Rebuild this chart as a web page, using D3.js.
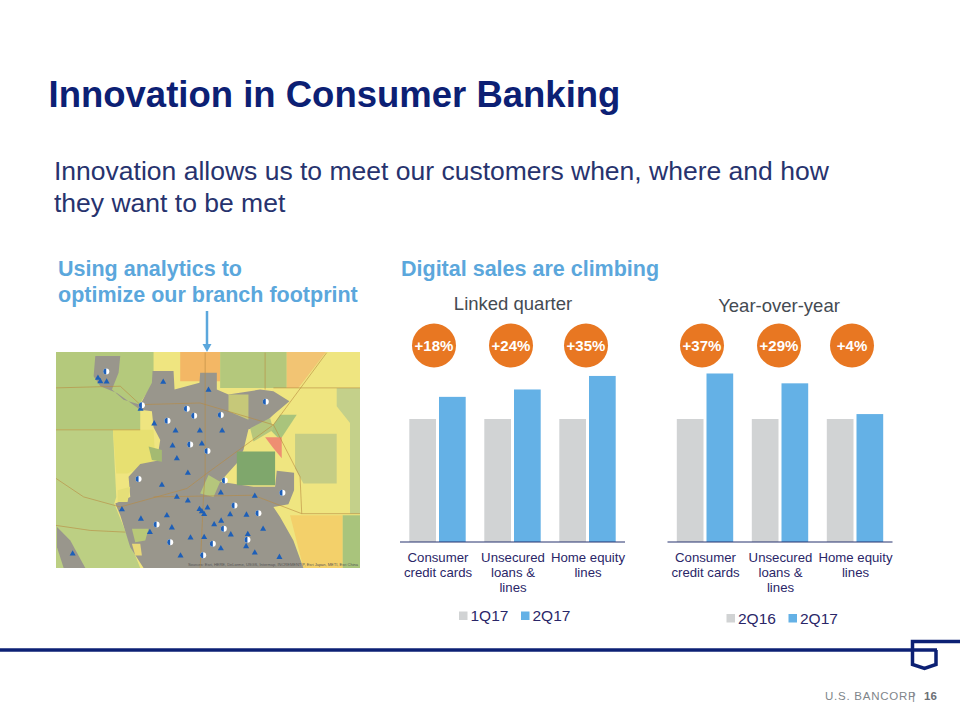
<!DOCTYPE html>
<html><head><meta charset="utf-8">
<script src="https://cdnjs.cloudflare.com/ajax/libs/d3/7.8.5/d3.min.js"></script>
<style>html,body{margin:0;background:#fff}svg{display:block}text{font-family:"Liberation Sans",Arial,sans-serif}</style>
</head><body><svg id="c" width="960" height="720"></svg>
<script>
const categories = [["Consumer","credit cards"],["Unsecured","loans &","lines"],["Home equity","lines"]];
const linkedBase = [100,100,100];
const linkedCurrent = [118,124,135];
const linkedBadges = ["+18%","+24%","+35%"];
const linkedLegend = ["1Q17","2Q17"];
const yoyBase = [100,100,100];
const yoyCurrent = [137,129,104];
const yoyBadges = ["+37%","+29%","+4%"];
const yoyLegend = ["2Q16","2Q17"];
// branch positions, in map units
const branchTriangles = [[173,114],[180,124],[199,125],[369,126],[505,150],[301,206],[342,250],[406,271],[479,271],[546,271],[397,316],[485,310],[410,354],[443,397],[365,433],[542,456],[644,466],[410,469],[443,480],[245,506],[478,505],[502,501],[485,512],[492,520],[380,524],[302,534],[570,521],[619,522],[543,540],[522,551],[395,560],[669,564],[329,574],[572,581],[623,580],[451,590],[492,589],[618,616],[542,622],[644,635],[421,644],[718,648],[97,638]];
const branchCircles = [[198,96],[305,197],[440,207],[462,228],[542,226],[677,186],[382,243],[450,314],[502,333],[295,417],[554,421],[727,458],[583,496],[655,519],[349,552],[551,565],[622,598],[390,605],[518,610],[489,644]];
const metroOutline = [[165,50],[240,50],[235,100],[215,150],[250,180],[300,195],[335,130],[337,95],[400,95],[403,150],[478,130],[480,100],[530,100],[530,150],[565,165],[660,150],[700,155],[748,185],[700,225],[660,262],[625,268],[610,330],[590,370],[540,425],[590,432],[640,440],[705,440],[710,392],[762,398],[762,450],[745,492],[700,500],[720,530],[760,600],[790,682],[310,682],[270,620],[240,525],[225,490],[270,470],[265,410],[300,372],[350,362],[360,300],[340,262],[335,215],[300,210],[230,160],[180,140],[160,110]];
const metroSouthWest = [[50,560],[90,600],[135,682],[70,682],[50,620]];
const mapZones = [
 {c:"#efe580",p:[[47,38],[960,38],[960,682],[47,682]]},
 {c:"#b4c97c",p:[[47,38],[340,38],[340,130],[300,190],[300,270],[47,270]]},
 {c:"#bccf83",p:[[47,270],[218,270],[228,470],[222,490],[300,682],[47,682]]},
 {c:"#e7e071",p:[[218,270],[340,270],[345,362],[262,400],[228,400]]},
 {c:"#f3b765",p:[[420,38],[540,38],[540,125],[420,125]]},
 {c:"#b4c87c",p:[[540,38],[740,38],[740,145],[540,145]]},
 {c:"#f2c473",p:[[740,38],[858,38],[775,145],[740,145]]},
 {c:"#c4d08a",p:[[890,145],[960,145],[960,520],[930,520],[930,250],[890,200]]},
 {c:"#c5cd84",p:[[765,282],[890,282],[890,430],[790,430],[765,385]]},
 {c:"#f3d06a",p:[[750,525],[908,525],[908,682],[790,682]]},
 {c:"#a9c47c",p:[[908,525],[960,525],[960,682],[908,682]]},
 {c:"#a9c47c",p:[[720,225],[770,225],[720,300],[690,270]]}
];
const mapOverZones = [
 {c:"#7fa76c",p:[[590,335],[705,335],[705,435],[590,435]]},
 {c:"#ee8e72",p:[[675,292],[725,292],[725,355],[700,325]]},
 {c:"#a4ba72",p:[[325,320],[365,330],[365,365],[335,360]]},
 {c:"#b5c67c",p:[[505,405],[540,425],[520,470],[480,460]]},
 {c:"#e5df78",p:[[232,450],[270,440],[262,485],[232,485]]},
 {c:"#b8c878",p:[[275,565],[325,565],[315,600],[285,605]]},
 {c:"#e8d878",p:[[275,610],[300,610],[305,645],[285,645]]},
 {c:"#c6c879",p:[[565,165],[625,165],[625,240],[565,215]]},
 {c:"#b6c67c",p:[[630,265],[690,235],[700,270],[640,305]]}
];
const mapRoads = [
 [[47,145],[240,140],[300,195],[480,190],[700,255],[780,410],[785,520],[960,520]],
 [[860,40],[700,255],[500,400],[440,445],[240,500]],
 [[495,40],[495,400],[490,470],[480,682]],
 [[47,415],[130,470],[240,500]],
 [[47,555],[150,570],[255,575]],
 [[675,40],[675,150]],
 [[47,270],[300,270]],
 [[700,145],[960,145]],
 [[340,470],[640,465],[785,520]]
];

const svg = d3.select("#c");
const navy = "#0c2074";
const labelColor = "#2a2668";
const grayBar = "#d1d3d4", blueBar = "#64b1e6";

// Header text
svg.append("text").attr("x",48.5).attr("y",107).attr("font-size",36.5).attr("font-weight","bold").attr("fill",navy).text("Innovation in Consumer Banking");
svg.append("g").selectAll("text").data(["Innovation allows us to meet our customers when, where and how","they want to be met"]).join("text")
  .attr("x",54).attr("y",(d,i)=>180+i*32).attr("font-size",26.5).attr("fill","#27336e").text(d=>d);
svg.append("g").selectAll("text").data(["Using analytics to","optimize our branch footprint"]).join("text")
  .attr("x",58).attr("y",(d,i)=>276+i*26).attr("font-size",21.5).attr("font-weight","bold").attr("fill","#5ba7dc").text(d=>d);
svg.append("text").attr("x",401).attr("y",276).attr("font-size",21.5).attr("font-weight","bold").attr("fill","#5ba7dc").text("Digital sales are climbing");

// Map
const defs = svg.append("defs");
defs.append("filter").attr("id","soft").append("feGaussianBlur").attr("stdDeviation",0.55);
defs.append("clipPath").attr("id","mapClip").append("rect").attr("x",56).attr("y",352).attr("width",304).attr("height",216);
const mx = d3.scaleLinear().domain([47,960]).range([56,360]);
const my = d3.scaleLinear().domain([38,682]).range([352,568]);
const mapLine = d3.line().x(d=>mx(d[0])).y(d=>my(d[1]));
const mapG = svg.append("g").attr("clip-path","url(#mapClip)").append("g").attr("filter","url(#soft)");
mapG.selectAll(".z").data(mapZones).join("path").attr("class","z").attr("fill",d=>d.c).attr("d",d=>mapLine(d.p)+"Z");
mapG.selectAll(".m").data([metroOutline,metroSouthWest]).join("path").attr("class","m").attr("fill","#99968c").attr("d",d=>mapLine(d)+"Z");
mapG.selectAll(".o").data(mapOverZones).join("path").attr("class","o").attr("fill",d=>d.c).attr("d",d=>mapLine(d.p)+"Z");
mapG.selectAll(".r").data(mapRoads).join("path").attr("class","r").attr("fill","none").attr("stroke","#b8893f").attr("stroke-opacity",.75).attr("stroke-width",.8).attr("d",mapLine);
const pts = svg.append("g");
pts.selectAll("path").data(branchTriangles).join("path")
  .attr("fill","#1d5fb8")
  .attr("d",d=>{const x=mx(d[0]),y=my(d[1]);return `M${x},${y-3}L${x+3},${y+2.3}L${x-3},${y+2.3}Z`;});
const circ = pts.selectAll("g").data(branchCircles).join("g").attr("transform",d=>`translate(${mx(d[0])},${my(d[1])})`);
circ.append("circle").attr("r",3).attr("fill","#fff");
circ.append("path").attr("d","M0,-3A3,3 0 0 0 0,3Z").attr("fill","#1d5fb8");
svg.append("text").attr("x",358).attr("y",566).attr("text-anchor","end").attr("font-size",4).attr("fill","#555").text("Sources: Esri, HERE, DeLorme, USGS, Intermap, INCREMENT P, Esri Japan, METI, Esri China");

// Arrow
svg.append("line").attr("x1",207).attr("x2",207).attr("y1",311).attr("y2",345).attr("stroke","#5ba7dc").attr("stroke-width",2.5);
svg.append("path").attr("d","M202.5,344L211.5,344L207,352Z").attr("fill","#5ba7dc");

// Charts
const y = d3.scaleLinear().domain([0,100]).range([542,419]);
function chart(x0, title, titleX, titleY, base, cur, badges, badgeX, legend, legendX, legendY){
  const x = d3.scaleBand().domain(d3.range(3)).range([x0,x0+225]);
  const g = svg.append("g");
  g.append("text").attr("x",titleX).attr("y",titleY).attr("text-anchor","middle").attr("font-size",18.5).attr("fill","#444a52").text(title);
  const barW = 26.7, gap = 3;
  g.selectAll(".b").data(base).join("rect").attr("class","b").attr("fill",grayBar)
    .attr("x",(d,i)=>x(i)+x.bandwidth()/2-gap/2-barW).attr("width",barW).attr("y",d=>y(d)).attr("height",d=>y(0)-y(d));
  g.selectAll(".c").data(cur).join("rect").attr("class","c").attr("fill",blueBar)
    .attr("x",(d,i)=>x(i)+x.bandwidth()/2+gap/2).attr("width",barW).attr("y",d=>y(d)).attr("height",d=>y(0)-y(d));
  g.append("line").attr("x1",x0).attr("x2",x0+225).attr("y1",542).attr("y2",542).attr("stroke","#27336e").attr("stroke-width",1.2);
  categories.forEach((lines,i)=>{
    g.append("g").selectAll("text").data(lines).join("text")
      .attr("x",x(i)+x.bandwidth()/2+.5).attr("y",(d,j)=>562+j*15.2).attr("text-anchor","middle").attr("font-size",13.2).attr("fill",labelColor).text(d=>d);
  });
  const bg = g.selectAll(".badge").data(badges).join("g").attr("class","badge").attr("transform",(d,i)=>`translate(${badgeX[i]},345.5)`);
  bg.append("circle").attr("r",22).attr("fill","#e87722");
  bg.append("text").attr("text-anchor","middle").attr("y",5.5).attr("font-size",15).attr("font-weight","bold").attr("fill","#fff").text(d=>d);
  const sw = [grayBar,blueBar];
  legend.forEach((t,i)=>{
    const lx = legendX[i];
    g.append("rect").attr("x",lx).attr("y",legendY-4).attr("width",8.5).attr("height",8.5).attr("fill",sw[i]);
    g.append("text").attr("x",lx+11.5).attr("y",legendY+5.5).attr("font-size",15.5).attr("fill",labelColor).text(t);
  });
}
chart(400,"Linked quarter",513,310,linkedBase,linkedCurrent,linkedBadges,[434,511,586],linkedLegend,[459,521],615.5);
chart(667.5,"Year-over-year",779,312,yoyBase,yoyCurrent,yoyBadges,[702,779,852],yoyLegend,[726.5,788.5],618);

// Footer
svg.append("path").attr("d","M0,650H937").attr("stroke",navy).attr("stroke-width",3.5).attr("fill","none");
svg.append("path").attr("d","M960,641.5H912.5V664.5L924.5,668.5L936,664.5V650").attr("stroke",navy).attr("stroke-width",3.5).attr("fill","none");
svg.append("text").attr("x",825).attr("y",700).attr("font-size",11.5).attr("letter-spacing",.75).attr("fill","#80858a").text("U.S. BANCORP");
svg.append("text").attr("x",912).attr("y",700).attr("font-size",11.5).attr("fill","#80858a").text("|");
svg.append("text").attr("x",924).attr("y",700).attr("font-size",11.5).attr("font-weight","bold").attr("fill","#6c7075").text("16");
</script></body></html>
